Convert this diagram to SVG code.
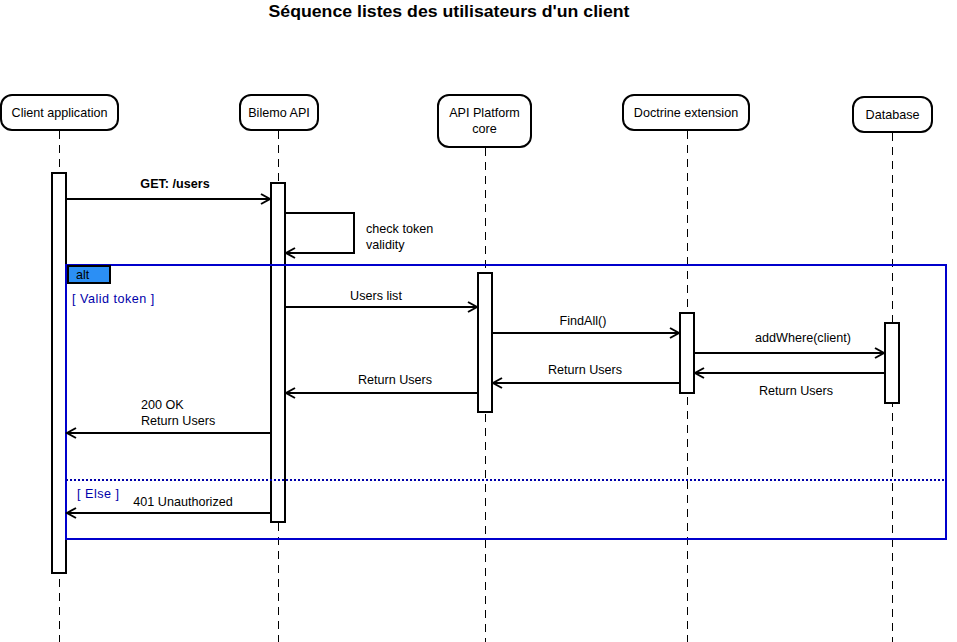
<svg xmlns="http://www.w3.org/2000/svg" width="957" height="642" viewBox="0 0 957 642">
<style>
text{font-family:"Liberation Sans",Arial,sans-serif;font-size:12.6px;fill:#000}
.title{font-size:16px;font-weight:bold}
.head{fill:#fff;stroke:#000;stroke-width:2}
.life{stroke:#000;stroke-width:1;stroke-dasharray:8,6}
.act{fill:#fff;stroke:#000;stroke-width:2}
.msg{stroke:#000;stroke-width:2;fill:none;marker-end:url(#ah)}
.frame{fill:none;stroke:#0000cc;stroke-width:2}
.guard{fill:#0000aa}
</style>
<defs>
<marker id="ah" markerWidth="12" markerHeight="12" refX="10" refY="6" orient="auto" markerUnits="userSpaceOnUse">
<path d="M1,1 L10,6 L1,11" fill="none" stroke="#000" stroke-width="2"/>
</marker>
</defs>
<rect width="957" height="642" fill="#fff"/>
<text class="title" x="449" y="17" text-anchor="middle" textLength="361" lengthAdjust="spacingAndGlyphs">Séquence listes des utilisateurs d'un client</text>

<g id="lifelines">
<line class="life" x1="59.5" y1="131" x2="59.5" y2="642"/>
<line class="life" x1="278.5" y1="131" x2="278.5" y2="642"/>
<line class="life" x1="485.5" y1="148" x2="485.5" y2="642"/>
<line class="life" x1="687.5" y1="131" x2="687.5" y2="642"/>
<line class="life" x1="892.5" y1="133" x2="892.5" y2="642"/>
</g>

<g id="client">
<rect class="head" x="1" y="95" width="117" height="35" rx="11"/>
<text x="59.5" y="117" text-anchor="middle">Client application</text>
</g>
<g id="bilemo">
<rect class="head" x="240" y="95" width="78" height="35" rx="11"/>
<text x="279" y="117" text-anchor="middle">Bilemo API</text>
</g>
<g id="apiplatform">
<rect class="head" x="438" y="95" width="93" height="52" rx="11"/>
<text x="484.5" y="117" text-anchor="middle">API Platform</text>
<text x="484.5" y="133" text-anchor="middle">core</text>
</g>
<g id="doctrine">
<rect class="head" x="623" y="95" width="126" height="35" rx="11"/>
<text x="686" y="117" text-anchor="middle">Doctrine extension</text>
</g>
<g id="database">
<rect class="head" x="853" y="97" width="79" height="35" rx="11"/>
<text x="892.5" y="119" text-anchor="middle">Database</text>
</g>

<g id="activations">
<rect class="act" x="52" y="173" width="14" height="400"/>
<rect class="act" x="271" y="183" width="14" height="339"/>
<rect class="act" x="478" y="273" width="14" height="139"/>
<rect class="act" x="680" y="313" width="14" height="80"/>
<rect class="act" x="885" y="323" width="14" height="80"/>
</g>

<g id="alt-frame">
<rect class="frame" x="66" y="265" width="880" height="274"/>
<rect x="68" y="266" width="42" height="17" fill="#2b8ff5" stroke="#000" stroke-width="2"/>
<text x="76" y="279">alt</text>
<text class="guard" x="72" y="303" letter-spacing="0.5">[ Valid token ]</text>
<line x1="66" y1="480" x2="946" y2="480" stroke="#0000aa" stroke-width="2" stroke-dasharray="2,2"/>
<text class="guard" x="77" y="498" letter-spacing="0.5">[ Else ]</text>
</g>

<g id="connectors">
<line class="msg" x1="66" y1="199" x2="270" y2="199"/>
<text x="175" y="188" text-anchor="middle" font-weight="bold">GET: /users</text>
<polyline class="msg" points="285,213 354,213 354,253 286,253"/>
<text x="366" y="233">check token</text>
<text x="366" y="249">validity</text>
<line class="msg" x1="285" y1="307" x2="477" y2="307"/>
<text x="376" y="300" text-anchor="middle">Users list</text>
<line class="msg" x1="492" y1="333" x2="679" y2="333"/>
<text x="583" y="325" text-anchor="middle">FindAll()</text>
<line class="msg" x1="694" y1="353" x2="884" y2="353"/>
<text x="803" y="342" text-anchor="middle">addWhere(client)</text>
<line class="msg" x1="885" y1="373" x2="695" y2="373"/>
<text x="796" y="395" text-anchor="middle">Return Users</text>
<line class="msg" x1="680" y1="383" x2="493" y2="383"/>
<text x="585" y="374" text-anchor="middle">Return Users</text>
<line class="msg" x1="478" y1="393" x2="286" y2="393"/>
<text x="395" y="384" text-anchor="middle">Return Users</text>
<line class="msg" x1="271" y1="433" x2="67" y2="433"/>
<text x="141" y="409">200 OK</text>
<text x="141" y="425">Return Users</text>
<line class="msg" x1="271" y1="513" x2="67" y2="513"/>
<text x="183" y="506" text-anchor="middle">401 Unauthorized</text>
</g>
</svg>
